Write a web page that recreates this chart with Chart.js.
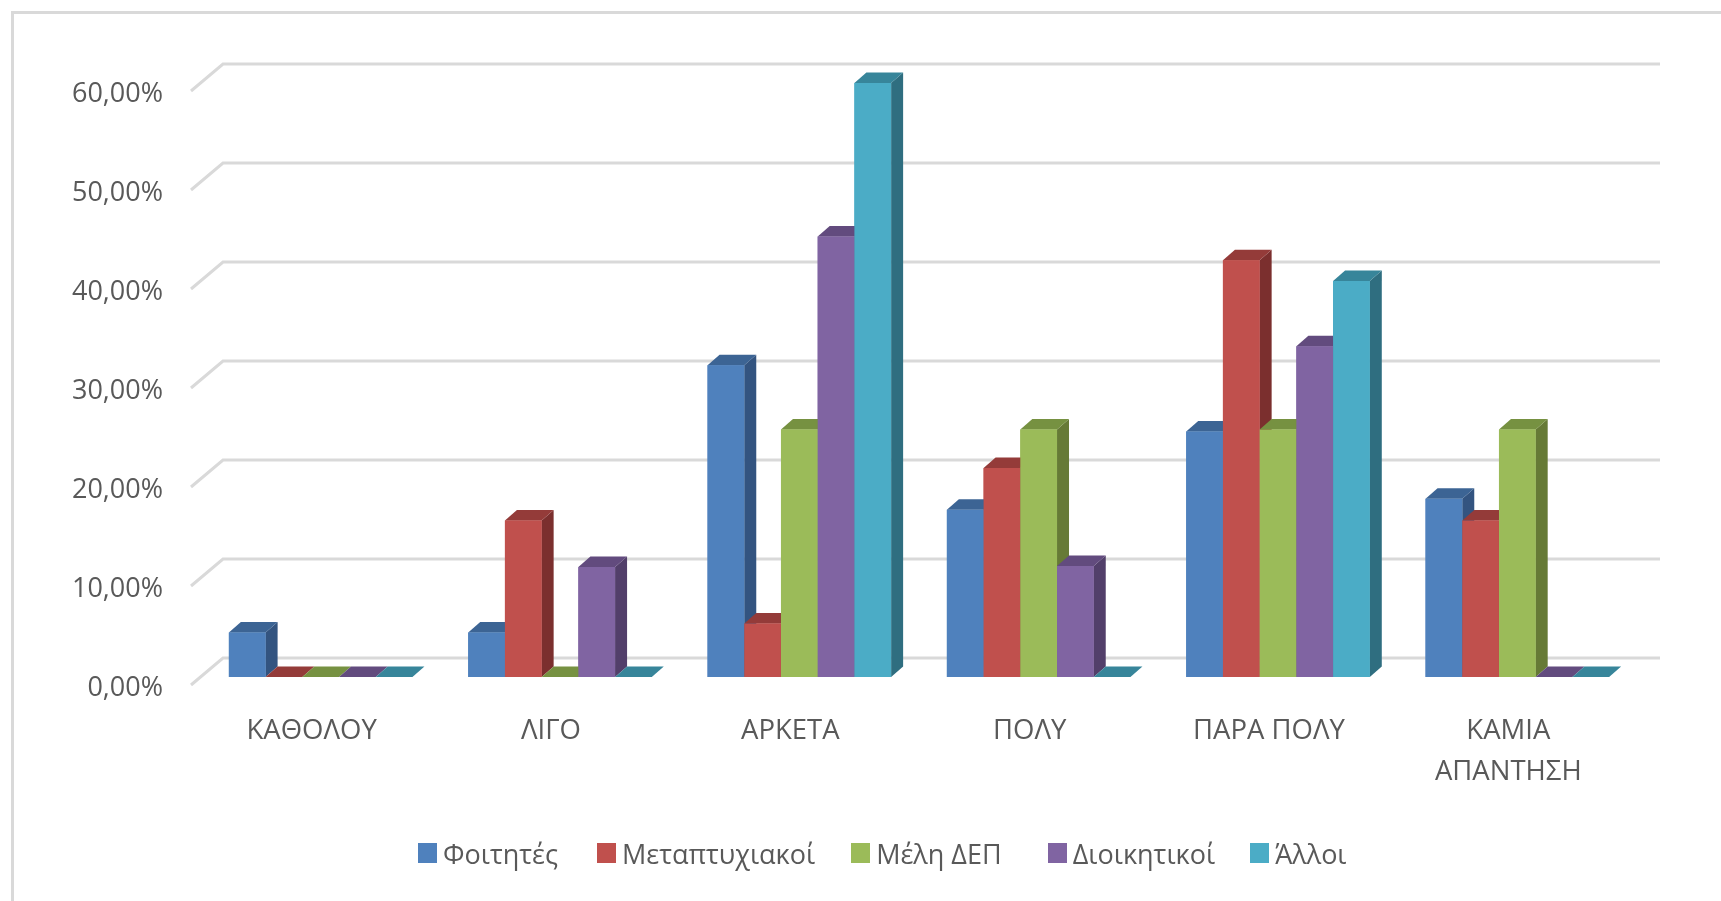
<!DOCTYPE html>
<html>
<head>
<meta charset="utf-8">
<title>Chart</title>
<script src="https://cdn.jsdelivr.net/npm/chart.js@4"></script>
<style>
html, body { margin: 0; padding: 0; background: #fff; overflow: hidden; }
#wrap { position: relative; width: 1721px; height: 901px; filter: blur(0.6px); }
#frame { position: absolute; left: 11px; top: 11px; right: -10px; bottom: -10px; border: 3px solid #d9d9d9; }
canvas { position: absolute; left: 0; top: 0; }
#legend { position: absolute; left: 418px; top: 833px; height: 40px; display: flex; align-items: center;
    font: 27px "Open Sans", sans-serif; color: #595959; white-space: nowrap; }
#legend span.box { display: inline-block; width: 19px; height: 20px; margin-right: 6px; }
#legend div { display: flex; align-items: center; }
</style>
</head>
<body>
<div id="wrap">
    <div id="frame"></div>
    <canvas id="myChart" width="1721" height="901"></canvas>
    <div id="legend"></div>
</div>
<script>
const categories = ['ΚΑΘΟΛΟΥ', 'ΛΙΓΟ', 'ΑΡΚΕΤΑ', 'ΠΟΛΥ', 'ΠΑΡΑ ΠΟΛΥ', ['ΚΑΜΙΑ', 'ΑΠΑΝΤΗΣΗ']];
const seriesNames = ['Φοιτητές', 'Μεταπτυχιακοί', 'Μέλη ΔΕΠ', 'Διοικητικοί', 'Άλλοι'];

// percentages
const foitites = [4.5, 4.5, 31.5, 16.9, 24.8, 18.0];
const metaptyxiakoi = [0, 15.8, 5.4, 21.1, 42.1, 15.8];
const meliDep = [0, 0, 25.0, 25.0, 25.0, 25.0];
const dioikitikoi = [0, 11.1, 44.5, 11.2, 33.4, 0];
const alloi = [0, 0, 60.0, 0, 40.0, 0];

const yTickLabels = ['0,00%', '10,00%', '20,00%', '30,00%', '40,00%', '50,00%', '60,00%'];

// front, top and side colours of each series
const frontCol = ['#4f81bd', '#c0504d', '#9bbb59', '#8064a2', '#4bacc6'];
const topCol = ['#3c6494', '#943b39', '#769141', '#624b7e', '#37859a'];
const sideCol = ['#335480', '#7b2f2e', '#667a36', '#523f6a', '#2f6e80'];

const seriesValues = [foitites, metaptyxiakoi, meliDep, dioikitikoi, alloi];

// Excel style depth of the bars and of the back wall
const barDepth = { x: 12, y: 10.5 };
const wall = { frontY: 8, backX: 32, backY: -19, right: 1660 };

// space after each legend item
const legendGaps = [39, 36, 46, 35, 0];

function poly(c, col, pts) {
    c.fillStyle = col;
    c.beginPath();
    pts.forEach((p, i) => i ? c.lineTo(p[0], p[1]) : c.moveTo(p[0], p[1]));
    c.closePath();
    c.fill();
}

// L shaped grid lines, from the scale's own tick pixels
const wallGrid = {
    id: 'wallGrid',
    beforeDatasetsDraw(chart) {
        const c = chart.ctx;
        const y = chart.scales.y;
        const x0 = 191;
        c.save();
        c.strokeStyle = '#d9d9d9';
        c.lineWidth = 3;
        y.ticks.forEach((t, i) => {
            const py = y.getPixelForTick(i);
            c.beginPath();
            c.moveTo(x0, py + wall.frontY);
            c.lineTo(x0 + wall.backX, py + wall.backY);
            c.lineTo(wall.right, py + wall.backY);
            c.stroke();
        });
        c.restore();
    }
};

// Chart.js paints the last dataset first, here we need the first one at the back,
// so side, top and front are painted again in series order from the bar elements
const bar3d = {
    id: 'bar3d',
    afterDatasetsDraw(chart) {
        const c = chart.ctx;
        const dx = barDepth.x, dy = barDepth.y;
        chart.data.datasets.forEach((ds, i) => {
            chart.getDatasetMeta(i).data.forEach(el => {
                const b = el.getProps(['x', 'y', 'base', 'width'], true);
                const l = b.x - b.width / 2, r = b.x + b.width / 2;
                poly(c, sideCol[i], [[r, b.y], [r + dx, b.y - dy], [r + dx, b.base - dy], [r, b.base]]);
                poly(c, topCol[i], [[l, b.y], [l + dx, b.y - dy], [r + dx, b.y - dy], [r, b.y]]);
                poly(c, frontCol[i], [[l, b.y], [r, b.y], [r, b.base], [l, b.base]]);
            });
        });
    }
};

const chartData = {
    type: 'bar',
    data: {
        labels: categories,
        datasets: seriesNames.map((name, i) => ({
            label: name,
            data: seriesValues[i],
            backgroundColor: frontCol[i],
            clip: false,
            barPercentage: 1,
            categoryPercentage: 0.767
        }))
    },
    options: {
        responsive: false,
        animation: false,
        layout: { padding: { left: 0, top: 83, right: 84, bottom: 0 } },
        plugins: { legend: { display: false }, tooltip: { enabled: false } },
        scales: {
            x: {
                grid: { display: false },
                border: { display: false },
                afterFit: s => { s.height = 224; },
                ticks: {
                    color: '#595959',
                    font: { family: '"Open Sans"', size: 27.5, lineHeight: 1.5 },
                    padding: 25.5,
                    labelOffset: -9,
                    maxRotation: 0,
                    autoSkip: false
                }
            },
            y: {
                min: 0,
                max: 60,
                grid: { display: false },
                border: { display: false },
                afterFit: s => { s.width = 201; },
                ticks: {
                    stepSize: 10,
                    color: '#595959',
                    font: { family: '"Open Sans"', size: 27 },
                    padding: 30,
                    labelOffset: 11,
                    callback: (v, i) => yTickLabels[i]
                }
            }
        }
    },
    plugins: [wallGrid, bar3d]
};

const myChart = new Chart(document.getElementById('myChart'), chartData);

// legend is plain html, Chart.js fixes the gap between box and text
const legendEl = document.getElementById('legend');
myChart.data.datasets.forEach((ds, i) => {
    const item = document.createElement('div');
    const box = document.createElement('span');
    box.className = 'box';
    box.style.background = ds.backgroundColor;
    item.style.marginRight = legendGaps[i] + 'px';
    item.appendChild(box);
    item.appendChild(document.createTextNode(ds.label));
    legendEl.appendChild(item);
});
</script>
</body>
</html>
